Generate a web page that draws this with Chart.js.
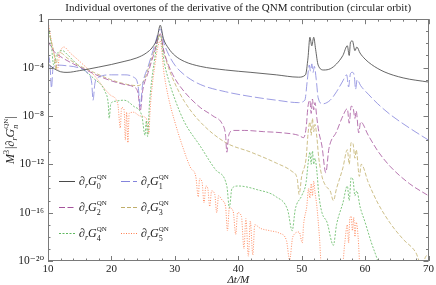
<!DOCTYPE html>
<html><head><meta charset="utf-8">
<script src="https://cdn.jsdelivr.net/npm/chart.js@4.4.1/dist/chart.umd.min.js"></script>
<style>html,body{margin:0;padding:0;background:#fff}</style>
</head><body>
<canvas id="c" width="436" height="285"></canvas>
<script>
const chartTitle = 'Individual overtones of the derivative of the QNM contribution (circular orbit)';
const xAxisTitle = 'Δt/M';
const overtoneIndex = ['0', '1', '2', '3', '4', '5'];
const yTickExponents = [0, -4, -8, -12, -16, -20];
const yTickLabels = ['1', '10⁻⁴', '10⁻⁸', '10⁻¹²', '10⁻¹⁶', '10⁻²⁰'];
const xTickValues = [10, 20, 30, 40, 50, 60, 70];

// overtone 0
const t0 = [10,11,12,13,15,18,20,22,24,25.5,26.5,27.2,27.7,28.2,29,30,31.5,34,38,42,46,49.5,50.6,51.0,51.3,51.6,51.9,52.2,52.6,53.5,54.5,55.5,56.5,57.2,57.5,57.7,58.0,58.4,58.7,59.2,60,61,63,66,70];
const v0 = [2.0e-4,7.9e-5,4.5e-5,4.0e-5,5.6e-5,1.1e-4,1.8e-4,3.2e-4,6.3e-4,1.6e-3,5.0e-3,2.5e-2,0.32,2.5e-2,4.0e-3,1.0e-3,3.2e-4,1.26e-4,6.3e-5,4.0e-5,2.5e-5,1.6e-5,2.5e-5,6.3e-4,3.2e-2,6.3e-3,3.2e-2,3.2e-3,1.6e-4,6.3e-5,7.9e-5,2.0e-4,1.0e-3,6.3e-3,1.0e-3,1.26e-2,1.6e-2,2.5e-3,5.0e-3,1.6e-3,5.0e-4,1.8e-4,4.5e-5,1.4e-5,6.3e-6];
// overtone 1
const t1 = [10,10.3,10.55,10.8,11.5,13,15,16.3,16.9,17.1,17.4,18,20,22,23.5,24.2,24.55,24.9,25.8,26.8,27.7,28.3,29,30,31.5,34,38,42,46,49.5,50.5,50.9,51.2,51.4,51.6,51.8,52.0,52.3,52.6,53.3,54.5,55.5,56.5,57.1,57.4,57.7,58.0,58.3,58.5,58.75,59.3,60.5,62,64,67,70];
const v1 = [1.26e-3,2.5e-4,2.0e-6,1.0e-4,1.6e-4,1.4e-4,8.9e-5,3.2e-5,5.0e-6,2.0e-7,5.0e-6,1.6e-5,2.5e-5,2.5e-5,1.6e-5,3.2e-6,6.3e-8,3.2e-6,1.26e-4,6.3e-3,0.16,1.0e-2,1.26e-3,1.6e-4,2.5e-5,4.0e-6,1.0e-6,4.0e-7,2.0e-7,1.26e-7,2.0e-7,1.0e-5,1.6e-4,5.0e-5,2.0e-4,4.0e-5,1.26e-4,1.0e-5,3.2e-7,1.0e-7,2.0e-7,1.0e-6,7.9e-6,2.5e-5,2.5e-6,3.2e-5,4.0e-5,2.0e-5,1.6e-6,1.0e-5,3.2e-6,6.3e-7,1.0e-7,1.26e-8,1.0e-9,1.0e-10];
// overtone 2
const t2 = [10,10.5,11,12,14,16,18,20,22,23.5,24.2,24.55,24.9,25.8,26.8,27.7,28.3,29,30,31.5,34,36,37.5,38.0,38.2,38.5,39.2,41,44,47,49.5,50.3,50.7,51.0,51.3,51.5,51.7,51.9,52.1,52.4,52.7,53.2,53.8,54.3,55.5,56.5,57.2,57.5,57.8,58.1,58.4,58.6,59.0,59.3,60.5,62,64,67,70];
const v2 = [1.6e-2,5.0e-3,2.0e-3,7.9e-4,2.0e-4,6.3e-5,2.0e-5,7.9e-6,4.0e-6,2.5e-6,7.9e-7,2.5e-8,1.0e-6,4.0e-5,2.0e-3,6.3e-2,2.0e-3,1.6e-4,1.26e-5,1.0e-6,5.0e-8,1.0e-8,2.0e-9,2.5e-10,1.0e-11,2.5e-10,6.3e-10,6.3e-10,5.0e-10,4.0e-10,2.5e-10,1.6e-10,1.0e-9,6.3e-8,2.0e-7,1.6e-8,2.5e-7,3.2e-8,1.26e-7,6.3e-9,5.0e-10,3.2e-11,2.0e-13,2.0e-11,5.0e-10,1.0e-8,4.0e-8,2.5e-9,6.3e-8,5.0e-8,6.3e-9,2.5e-8,4.0e-10,3.2e-9,2.5e-10,1.26e-11,6.3e-13,2.5e-14,2.5e-15];
// overtone 3
const t3 = [10,10.6,11.0,11.25,11.5,12,13,14.6,17.2,19.9,22.5,24,25,26,27,27.7,28.3,29,30,31.5,34,38,42,46,48.5,49.3,49.6,50.0,50.7,51.0,51.3,51.5,51.7,51.9,52.1,52.4,52.7,53.2,53.8,54.5,55.0,55.5,56.5,57.2,57.5,57.8,58.1,58.4,58.6,59.1,59.4,60.5,62,64,66,68,69.0,69.5,70];
const v3 = [0.126,1.0e-2,1.0e-3,6.3e-5,1.0e-3,1.6e-3,6.3e-4,1.8e-4,4.0e-5,1.0e-5,4.0e-6,3.2e-6,6.3e-6,1.6e-4,6.3e-3,5.0e-2,1.6e-3,1.0e-4,5.0e-6,1.6e-7,3.2e-9,6.3e-11,1.0e-11,1.26e-12,2.5e-13,6.3e-14,3.2e-15,1.0e-13,3.2e-12,3.2e-10,3.2e-9,2.5e-10,6.3e-9,5.0e-10,2.0e-9,1.6e-10,3.2e-12,1.0e-13,1.6e-14,6.3e-15,1.0e-15,1.0e-14,5.0e-13,1.6e-11,1.0e-12,6.3e-11,5.0e-11,3.2e-12,1.6e-11,1.0e-13,1.0e-12,3.2e-14,6.3e-16,1.26e-17,6.3e-19,5.0e-20,3.2e-21,2.0e-20,4.0e-20];
// overtone 4
const t4 = [10,10.5,10.9,11.3,12.3,13,14.6,17.2,19,19.5,19.65,19.9,20.5,22,23.5,24.8,25.3,25.5,25.7,26.0,26.7,27.7,28.3,29,30,31.5,34,36.5,38.2,38.6,39.0,40,43,46,47.8,48.5,49.0,50.0,50.7,51.0,51.3,51.5,51.7,51.9,52.1,52.4,52.7,53.2,54,55.0,55.5,56.5,57.2,57.5,57.8,58.1,58.4,58.7,59.2,60,61,62,62.5];
const v4 = [0.32,1.0e-2,1.6e-4,1.0e-3,2.5e-3,1.26e-3,1.8e-4,1.26e-5,1.0e-6,1.0e-7,6.3e-9,1.0e-7,1.6e-7,2.0e-7,6.3e-8,1.0e-8,2.5e-10,4.0e-9,2.0e-10,1.0e-7,2.0e-4,5.0e-2,3.2e-4,1.0e-5,2.5e-7,3.2e-9,3.2e-11,3.2e-13,1.6e-14,2.5e-16,1.0e-14,1.6e-14,7.9e-15,2.0e-15,1.6e-16,3.2e-18,2.0e-16,2.5e-15,3.2e-14,1.0e-12,1.0e-11,1.0e-12,1.26e-11,1.0e-12,3.2e-12,2.5e-13,3.2e-15,1.0e-16,1.6e-17,2.0e-19,1.0e-17,6.3e-16,1.6e-14,1.0e-15,7.9e-14,5.0e-14,2.5e-15,6.3e-15,3.2e-16,1.6e-17,3.2e-19,1.0e-20,1.0e-21];
// overtone 5
const t5 = [10,10.6,11.2,11.5,11.8,12.5,13.5,14.6,17.2,19.9,21,21.4,21.6,22.0,22.2,22.4,22.6,22.8,23.5,24.5,25.5,25.9,26.1,26.8,27.7,28.3,29,30,31.2,32.5,33.3,33.7,33.9,34.3,34.6,34.9,35.2,35.5,35.8,36.3,36.6,36.9,37.5,38.0,38.3,38.6,39.2,39.6,39.9,40.5,40.9,41.2,41.6,41.9,42.3,42.6,43.5,45,46.5,47.6,48.1,48.6,49.6,50.1,50.3,50.8,51.1,51.3,51.5,51.7,51.9,52.1,52.4,52.8,53.2,56.3,56.8,57.2,57.4,57.6,57.8,58.0,58.2,58.4,58.6,58.9,59.2];
const v5 = [0.79,1.0e-2,3.2e-4,6.3e-5,1.0e-3,5.0e-3,1.6e-3,5.0e-4,2.5e-5,5.0e-7,1.0e-7,1.0e-9,5.0e-8,3.2e-8,1.0e-10,2.0e-8,6.3e-11,1.6e-8,2.0e-8,1.0e-8,6.3e-9,3.2e-10,3.2e-8,1.0e-4,1.6e-2,3.2e-5,3.2e-7,3.2e-9,3.2e-11,5.0e-13,1.0e-13,2.0e-15,6.3e-14,3.2e-14,6.3e-16,1.6e-14,1.0e-14,3.2e-16,6.3e-15,3.2e-15,1.0e-16,2.5e-15,1.0e-15,3.2e-16,3.2e-18,2.5e-16,1.26e-16,1.6e-18,1.0e-16,5.0e-17,1.0e-19,3.2e-17,2.5e-20,2.0e-17,3.2e-20,1.0e-17,5.0e-18,3.2e-18,2.0e-18,5.0e-19,1.26e-20,1.0e-18,2.5e-18,3.2e-19,1.0e-17,3.2e-16,1.0e-14,1.6e-15,2.5e-14,2.5e-15,4.0e-14,5.0e-15,3.2e-16,1.0e-18,1.0e-21,1.0e-21,3.2e-19,1.0e-17,3.2e-19,3.2e-17,5.0e-17,3.2e-18,4.0e-17,1.0e-18,1.6e-17,1.0e-18,1.0e-21];

const seriesT = [t0, t1, t2, t3, t4, t5];
const seriesV = [v0, v1, v2, v3, v4, v5];
const colors = ['#4a4a4a', '#8484dc', '#a5539c', '#c0ae6a', '#5eb85e', '#ff7c4c'];
const widths = [0.85, 0.8, 0.8, 0.8, 0.8, 0.85];
const dashes = [[], [9, 3], [6, 2.5], [4, 2], [2, 1.5], [1, 1.5]];

const SERIF = '"Liberation Serif", "DejaVu Serif", serif';
function fnt(size, italic) { return (italic ? 'italic ' : '') + size + 'px ' + SERIF; }

function drawRich(ctx, parts, x, y, dry) {
  let cx = x;
  for (const p of parts) {
    if (p.stack) {
      ctx.font = fnt(p.subSize, p.subItalic);
      const w1 = ctx.measureText(p.sub).width;
      if (!dry) ctx.fillText(p.sub, cx, y + p.subDy);
      ctx.font = fnt(p.supSize, false);
      const w2 = ctx.measureText(p.sup).width;
      if (!dry) ctx.fillText(p.sup, cx, y + p.supDy);
      cx += Math.max(w1, w2);
    } else {
      ctx.font = fnt(p.size, p.italic);
      if (!dry) ctx.fillText(p.t, cx, y + (p.dy || 0));
      cx += ctx.measureText(p.t).width + (p.after || 0);
    }
  }
  return cx - x;
}
function gLabel(n) {
  return [
    {t: '∂', size: 12, italic: true},
    {t: 'r', size: 8, italic: true, dy: 3},
    {t: 'G', size: 12, italic: true},
    {stack: true, sub: n, subSize: 8, subItalic: false, subDy: 3.5, sup: 'QN', supSize: 7, supDy: -6}
  ];
}

const decorPlugin = {
  id: 'decor',
  afterDatasetsDraw(chart) {
    const ctx = chart.ctx, a = chart.chartArea;
    const xs = chart.scales.x, ys = chart.scales.y;
    ctx.save();
    ctx.strokeStyle = '#7a7a7a';
    ctx.lineWidth = 1;
    ctx.setLineDash([]);
    ctx.strokeRect(Math.round(a.left) + 0.5, Math.round(a.top) + 0.5, Math.round(a.right - a.left) - 1, Math.round(a.bottom - a.top) - 1);
    ctx.beginPath();
    for (let t = 10; t <= 70; t += 2) {
      const px = Math.round(xs.getPixelForValue(t)) + 0.5;
      const len = (t % 10 === 0) ? 5 : 2.5;
      ctx.moveTo(px, a.bottom); ctx.lineTo(px, a.bottom - len);
      ctx.moveTo(px, a.top); ctx.lineTo(px, a.top + len);
    }
    for (let k = 0; k <= 20; k++) {
      const py = Math.round(ys.getPixelForValue(Math.pow(10, -k))) + 0.5;
      const len = (k % 4 === 0) ? 5 : 2.5;
      ctx.moveTo(a.left, py); ctx.lineTo(a.left + len, py);
      ctx.moveTo(a.right, py); ctx.lineTo(a.right - len, py);
    }
    ctx.stroke();
    const colX = [59, 121], rowY = [181, 207, 233];
    ctx.textBaseline = 'alphabetic';
    ctx.textAlign = 'left';
    for (let i = 0; i < 6; i++) {
      const cx = colX[i % 2], cy = rowY[Math.floor(i / 2)];
      ctx.strokeStyle = colors[i];
      ctx.lineWidth = 1;
      ctx.setLineDash(dashes[i]);
      ctx.beginPath(); ctx.moveTo(cx, cy + 0.5); ctx.lineTo(cx + 16, cy + 0.5); ctx.stroke();
      ctx.setLineDash([]);
      ctx.fillStyle = '#222';
      drawRich(ctx, gLabel(overtoneIndex[i]), cx + 20, cy + 4);
    }
    const yParts = [
      {t: 'M', size: 12, italic: true},
      {t: '3', size: 8, italic: false, dy: -5, after: 1},
      {t: '|', size: 12, italic: false},
      {t: '∂', size: 12, italic: true},
      {t: 'r', size: 8, italic: true, dy: 3},
      {t: 'G', size: 12, italic: true},
      {stack: true, sub: 'n', subSize: 8, subItalic: true, subDy: 3.5, sup: 'QN', supSize: 7, supDy: -6},
      {t: '|', size: 12, italic: false}
    ];
    ctx.translate(14, (a.top + a.bottom) / 2);
    ctx.rotate(-Math.PI / 2);
    const w = drawRich(ctx, yParts, 0, 0, true);
    drawRich(ctx, yParts, -w / 2, 0);
    ctx.restore();
  }
};

const datasets = seriesT.map((ts, i) => ({
  label: 'overtone ' + overtoneIndex[i],
  data: ts.map((t, j) => ({x: t, y: seriesV[i][j]})),
  borderColor: colors[i],
  borderWidth: widths[i],
  borderDash: dashes[i],
  pointRadius: 0,
  cubicInterpolationMode: 'monotone',
  fill: false
}));

new Chart(document.getElementById('c'), {
  type: 'line',
  data: {datasets},
  plugins: [decorPlugin],
  options: {
    responsive: false,
    animation: false,
    devicePixelRatio: 1,
    layout: {padding: {left: 0, right: 6, top: 0, bottom: 0}},
    plugins: {
      legend: {display: false},
      tooltip: {enabled: false},
      title: {
        display: true, text: chartTitle, fullSize: false,
        color: '#222', font: {family: SERIF, size: 11, weight: 'normal'},
        padding: {top: 2, bottom: 4}
      }
    },
    scales: {
      x: {
        type: 'linear', min: 10, max: 70,
        grid: {display: false, drawTicks: false},
        border: {display: false},
        ticks: {
          stepSize: 2, autoSkip: false, maxRotation: 0, padding: 2,
          color: '#222', font: {family: SERIF, size: 11},
          callback: (v) => xTickValues.includes(v) ? String(v) : ''
        },
        title: {display: true, text: xAxisTitle, color: '#222', font: {family: SERIF, size: 11, style: 'italic'}, padding: {top: 0, bottom: -2}},
        afterFit: (s) => { s.height = 24; }
      },
      y: {
        type: 'logarithmic', min: 1e-20, max: 1,
        grid: {display: false, drawTicks: false},
        border: {display: false},
        afterBuildTicks: (s) => {
          const arr = [];
          for (let k = 0; k <= 20; k++) arr.push({value: Math.pow(10, -k)});
          s.ticks = arr;
        },
        ticks: {
          autoSkip: false, padding: 4, color: '#222', font: {family: SERIF, size: 11.5},
          callback: (v) => {
            const e = Math.round(Math.log10(v));
            const idx = yTickExponents.indexOf(e);
            return idx >= 0 ? yTickLabels[idx] : '';
          }
        },
        afterFit: (s) => { s.width = 48; }
      }
    }
  }
});
</script>
</body></html>
